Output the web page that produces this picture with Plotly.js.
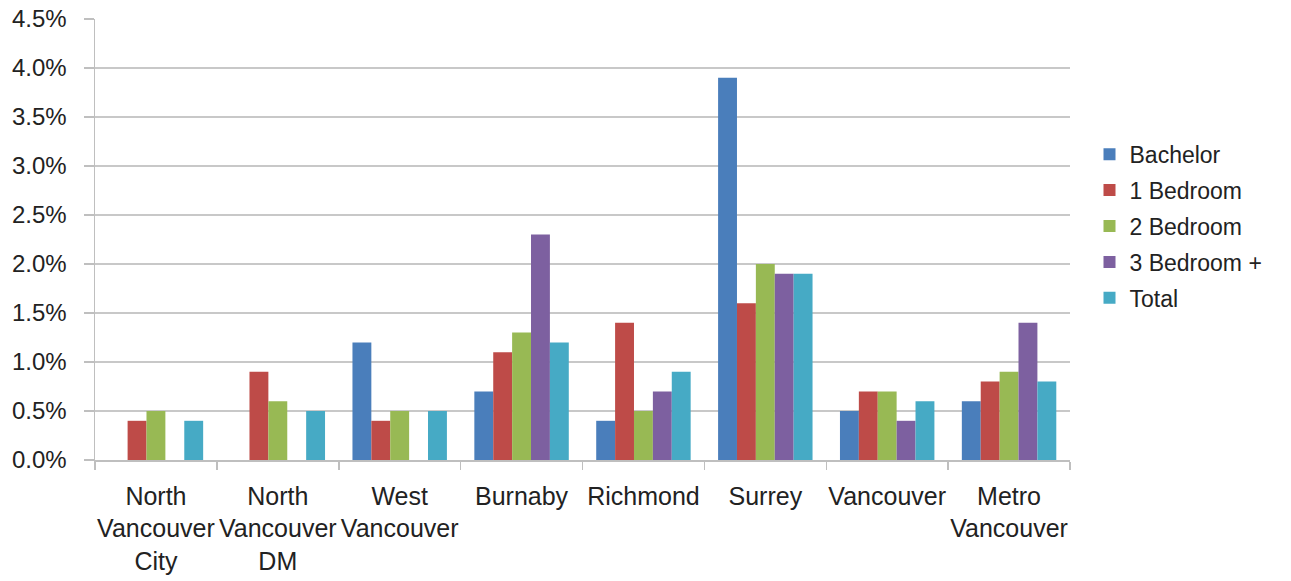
<!DOCTYPE html>
<html>
<head>
<meta charset="utf-8">
<script src="https://cdn.plot.ly/plotly-3.0.1.min.js"></script>
<style>
  html, body { margin: 0; padding: 0; background: #fff; }
  #chart { width: 1291px; height: 581px; }
</style>
</head>
<body>
<div id="chart"></div>
<script>
// Rental vacancy rates by unit type (%)
const regions = [
  'North<br>Vancouver<br>City',
  'North<br>Vancouver<br>DM',
  'West<br>Vancouver',
  'Burnaby',
  'Richmond',
  'Surrey',
  'Vancouver',
  'Metro<br>Vancouver'
];
const seriesNames = ['Bachelor', '1 Bedroom', '2 Bedroom', '3 Bedroom +', 'Total'];
const bachelor  = [null, null, 1.2, 0.7, 0.4, 3.9, 0.5, 0.6];
const bedroom1  = [0.4, 0.9, 0.4, 1.1, 1.4, 1.6, 0.7, 0.8];
const bedroom2  = [0.5, 0.6, 0.5, 1.3, 0.5, 2.0, 0.7, 0.9];
const bedroom3p = [null, null, null, 2.3, 0.7, 1.9, 0.4, 1.4];
const total     = [0.4, 0.5, 0.5, 1.2, 0.9, 1.9, 0.6, 0.8];
const yTicks = [0, 0.5, 1, 1.5, 2, 2.5, 3, 3.5, 4, 4.5];

const colors = ['#4a7ebb', '#be4b48', '#98b954', '#7d60a0', '#46aac5'];
const values = [bachelor, bedroom1, bedroom2, bedroom3p, total];

const traces = values.map((v, i) => ({
  type: 'bar',
  name: seriesNames[i],
  legendgroup: 'g' + i,
  x: regions,
  y: v,
  marker: { color: colors[i], line: { width: 0 } },
  hoverinfo: 'x+y+name'
}));

const family = '"Liberation Sans", Arial, sans-serif';
const font = { family: family, size: 24, color: '#222222' };

const layout = {
  width: 1291,
  height: 581,
  margin: { l: 95, r: 221, t: 19, b: 121, pad: 0 },
  paper_bgcolor: '#ffffff',
  plot_bgcolor: '#ffffff',
  font: font,
  barmode: 'group',
  bargap: 0.225,
  bargroupgap: 0,
  showlegend: true,
  legend: {
    x: 1.02, xanchor: 'left',
    y: 0.53, yanchor: 'middle',
    font: { family: family, size: 23, color: '#222222' },
    itemwidth: 30,
    tracegroupgap: 3
  },
  xaxis: {
    type: 'category',
    showline: true,
    linecolor: '#bfbfbf',
    linewidth: 1.5,
    ticks: 'outside',
    tickson: 'boundaries',
    ticklen: 8,
    tickcolor: '#bfbfbf',
    tickwidth: 1.5,
    showgrid: false,
    tickangle: 0,
    tickfont: { family: family, size: 25, color: '#222222' },
    ticklabelstandoff: 13,
    fixedrange: true
  },
  yaxis: {
    range: [0, 4.5],
    tickvals: yTicks,
    ticktext: yTicks.map(t => t.toFixed(1) + '%'),
    showline: true,
    linecolor: '#bfbfbf',
    linewidth: 1.5,
    ticks: 'outside',
    ticklen: 10,
    tickcolor: '#bfbfbf',
    tickwidth: 1.5,
    showgrid: true,
    gridcolor: '#c8c8c8',
    gridwidth: 1.5,
    zeroline: false,
    tickfont: font,
    ticklabelstandoff: 12,
    fixedrange: true
  }
};

Plotly.newPlot('chart', traces, layout, { displayModeBar: false, staticPlot: true });
</script>
</body>
</html>
